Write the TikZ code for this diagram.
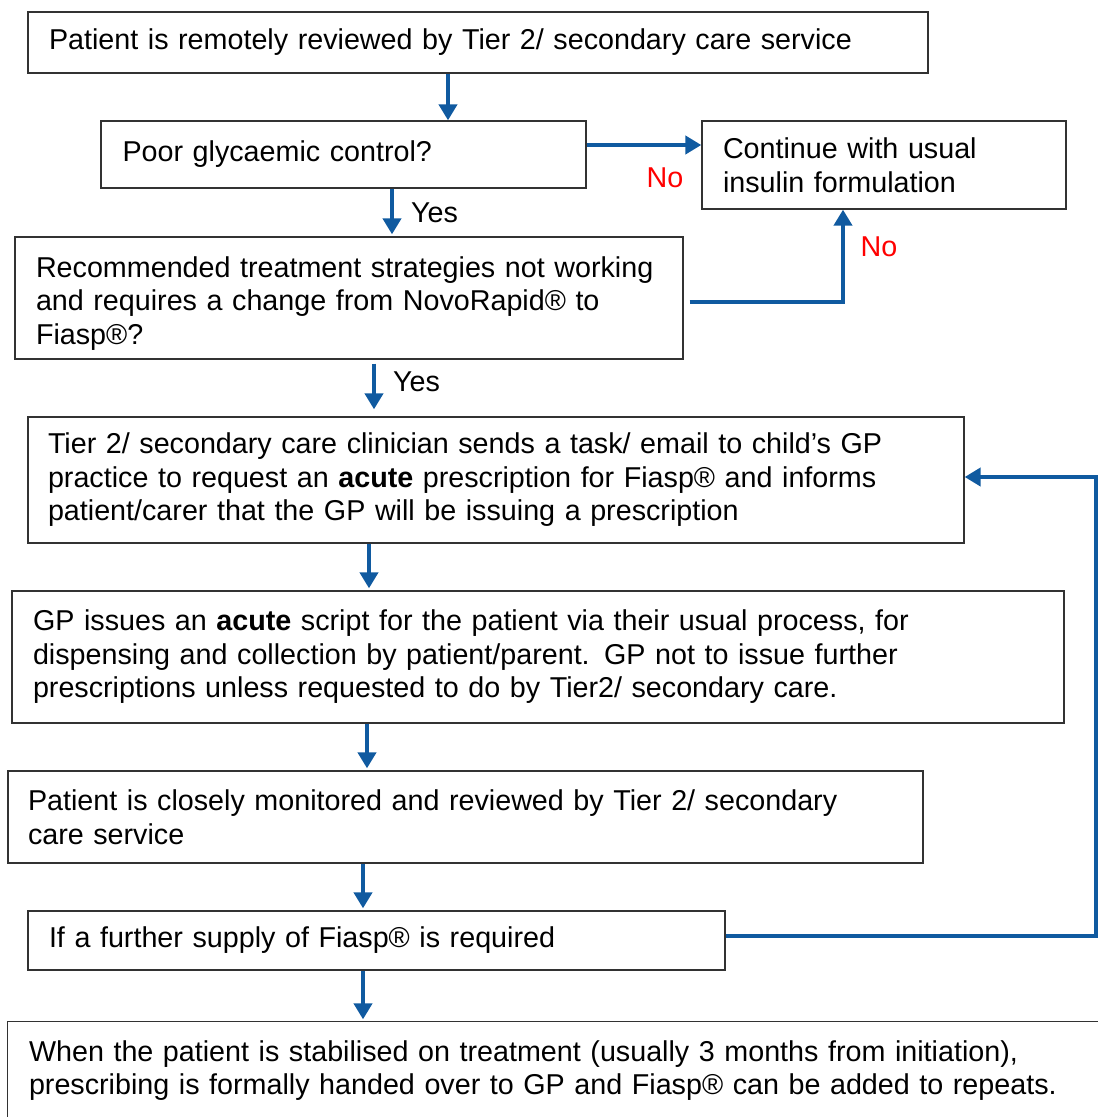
\documentclass[tikz,border=0pt]{standalone}
\usepackage{fontspec}
\setmainfont{Liberation Sans}
\usetikzlibrary{arrows.meta}
\definecolor{arrblue}{RGB}{16,90,160}
\definecolor{boxline}{RGB}{50,50,50}
\begin{document}
\begin{tikzpicture}[x=1pt,y=-1pt,
  box/.style={draw=boxline, line width=1.3pt, align=left, inner ysep=0pt,
    font=\fontsize{28.7}{33.5}\selectfont, anchor=center},
  arr/.style={draw=arrblue, line width=4.6pt, -{Triangle[length=16pt,width=18pt]}},
  lbl/.style={font=\fontsize{28.7}{33.5}\selectfont, inner sep=0pt},
  nolbl/.style={lbl, text=red}]
\useasboundingbox (0,0) rectangle (1098,1117);

% boxes
\node[box, inner xsep=21pt, text width=858pt, minimum height=61pt] (b1) at (478,42.5)
  {Patient is remotely reviewed by Tier 2/ secondary care service};
\node[box, inner xsep=21.5pt, text width=442pt, minimum height=67pt] (b2) at (343.5,154.5)
  {Poor glycaemic control?};
\node[box, inner xsep=21pt, text width=322pt, minimum height=88pt] (b3) at (884,165)
  {Continue with usual\\insulin formulation};
\node[box, inner xsep=21pt, text width=626pt, minimum height=122pt] (b4) at (349,298)
  {\rule{0pt}{31pt}Recommended treatment strategies not working\\and requires a change from NovoRapid® to\\Fiasp®?};
\node[box, inner xsep=20pt, text width=896pt, minimum height=126pt] (b5) at (496,480)
  {Tier 2/ secondary care clinician sends a task/ email to child’s GP\\practice to request an \textbf{acute} prescription for Fiasp® and informs\\patient/carer that the GP will be issuing a prescription};
\node[box, inner xsep=21pt, text width=1010pt, minimum height=132pt] (b6) at (538,657)
  {GP issues an \textbf{acute} script for the patient via their usual process, for\\dispensing and collection by patient/parent. GP not to issue further\\prescriptions unless requested to do by Tier2/ secondary care.};
\node[box, inner xsep=20pt, text width=875pt, minimum height=92pt] (b7) at (465.5,817)
  {Patient is closely monitored and reviewed by Tier 2/ secondary\\care service};
\node[box, inner xsep=21pt, text width=655pt, minimum height=59pt] (b8) at (376.5,940.5)
  {If a further supply of Fiasp® is required};
\node[box, draw=none, inner xsep=21pt, text width=1068pt, minimum height=97pt] (b9) at (563,1070.5)
  {When the patient is stabilised on treatment (usually 3 months from initiation),\\prescribing is formally handed over to GP and Fiasp® can be added to repeats.};
\draw[draw=boxline, line width=1.3pt] (b9.north west) rectangle ++(1110,130);

% connector guide coordinates
\coordinate (x1) at (448,0);
\coordinate (x2) at (392,0);
\coordinate (y3) at (0,145);
\coordinate (e1) at (843,302);
\coordinate (x5) at (374,0);
\coordinate (x6) at (369,0);
\coordinate (x7) at (367,0);
\coordinate (x8) at (363,0);
\coordinate (fbA) at (1096,936);
\coordinate (fbB) at (1096,477);

% connectors
\draw[arr] (b1.south -| x1) -- (b2.north -| x1);
\draw[arr, shorten >=2pt] (b2.south -| x2) -- (b4.north -| x2);
\draw[arr] (b2.east |- y3) -- (b3.west |- y3);
\draw[arr] ([xshift=6pt]b4.east |- e1) -- (e1) -- (b3.south -| e1);
\draw[arr, shorten <=4pt, shorten >=7pt] (b4.south -| x5) -- (b5.north -| x5);
\draw[arr, shorten >=2pt] (b5.south -| x6) -- (b6.north -| x6);
\draw[arr, shorten >=2pt] (b6.south -| x7) -- (b7.north -| x7);
\draw[arr, shorten >=2pt] (b7.south -| x8) -- (b8.north -| x8);
\draw[arr, shorten >=2pt] (b8.south -| x8) -- (b9.north -| x8);
\draw[arr] (b8.east |- fbA) -- (fbA) -- (fbB) -- (b5.east |- fbB);

% labels
\node[lbl, anchor=west] (yes1) at (411,213) {Yes};
\node[lbl, anchor=west] (yes2) at (393,382) {Yes};
\node[nolbl] (no1) at (665,178) {No};
\node[nolbl] (no2) at (879,247) {No};
\end{tikzpicture}
\end{document}
